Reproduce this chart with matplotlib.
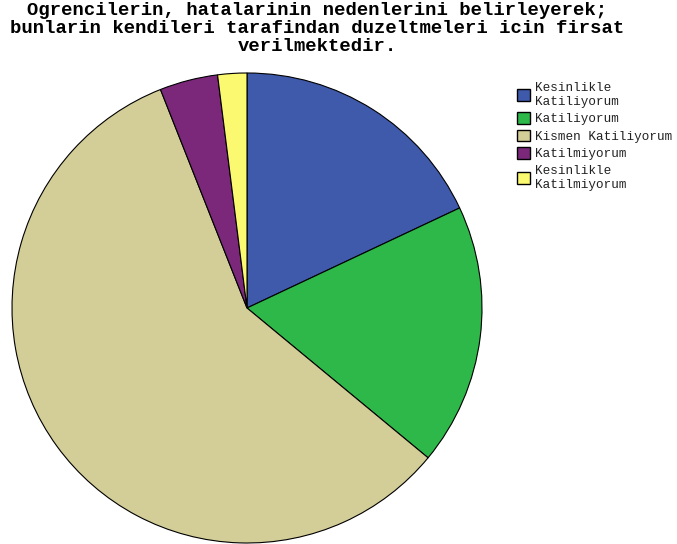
import matplotlib.pyplot as plt
from matplotlib.patches import Patch

# Data (percent)
labels = ["Kesinlikle\nKatiliyorum", "Katiliyorum", "Kismen Katiliyorum",
          "Katilmiyorum", "Kesinlikle\nKatilmiyorum"]
values = [18, 18, 58, 4, 2]
colors = ["#3f59ab", "#2eb84a", "#d3cd97", "#7b287b", "#fbf96f"]

title = ("Ogrencilerin, hatalarinin nedenlerini belirleyerek;\n"
         "bunlarin kendileri tarafindan duzeltmeleri icin firsat\n"
         "verilmektedir.")

fig = plt.figure(figsize=(6.77, 5.44), dpi=100)
fig.text(0.469, 0.997, title, ha="center", va="top", family="Liberation Mono",
         fontweight="bold", fontsize=13.6, linespacing=1.08)

ax = fig.add_axes([12 / 677, 1 / 544, 470 / 677, 470 / 544])
ax.pie(values, colors=colors, startangle=90, counterclock=False,
       wedgeprops=dict(edgecolor="black", linewidth=0.8))
ax.set_xlim(-1, 1)
ax.set_ylim(-1, 1)
ax.set_aspect("equal")

handles = [Patch(facecolor=c, edgecolor="black", linewidth=1.0) for c in colors]
fig.legend(handles, labels, loc="upper left", bbox_to_anchor=(508 / 677, 1 - 73 / 544),
           frameon=False, prop=dict(family="Liberation Mono", size=9.1),
           labelcolor="#222222",
           handlelength=1.05, handleheight=1.05, handletextpad=0.4,
           labelspacing=0.35, borderpad=0.2)

fig.savefig("out.png", dpi=100)
